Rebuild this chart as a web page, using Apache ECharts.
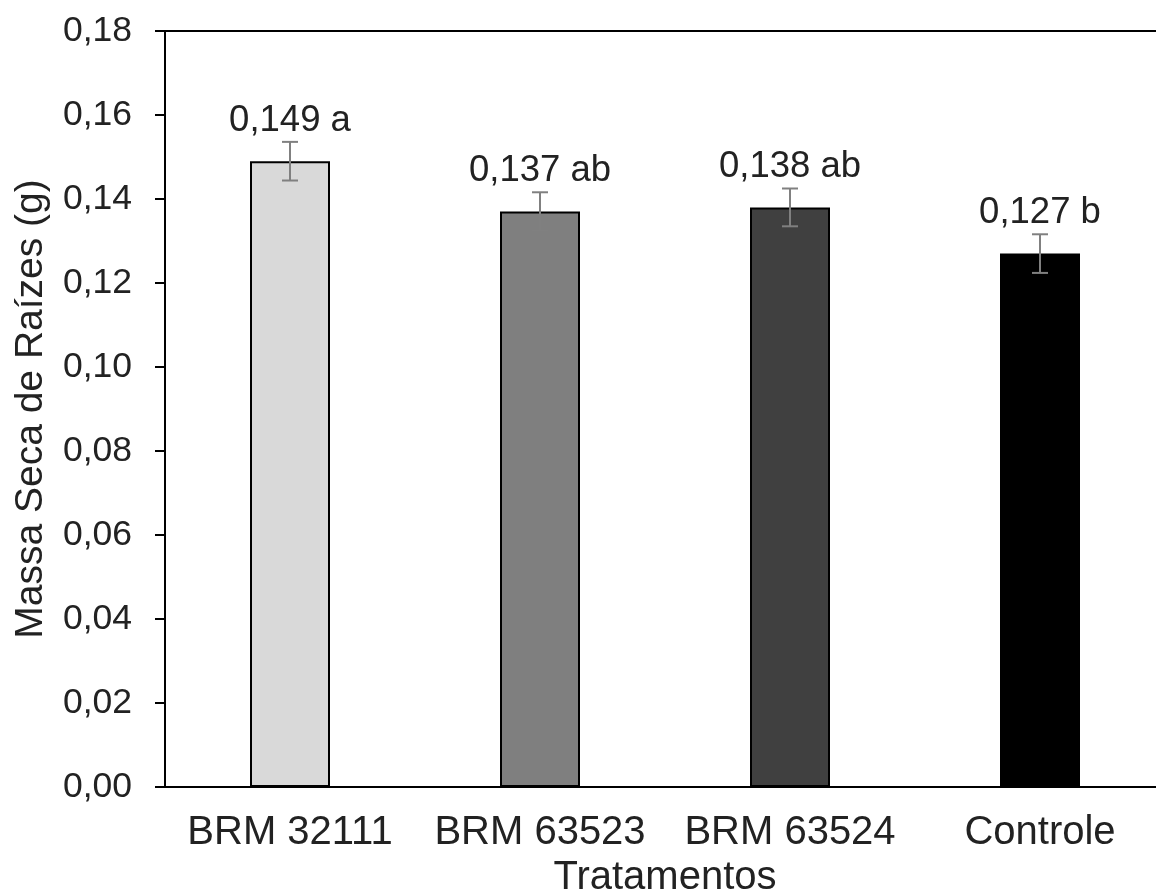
<!DOCTYPE html>
<html><head><meta charset="utf-8">
<script src="https://cdn.jsdelivr.net/npm/echarts@6/dist/echarts.min.js"></script>
<style>html,body{margin:0;padding:0;background:#fff}#c{width:1156px;height:895px}</style>
</head><body><div id="c"></div>
<script>
const categories = ['BRM 32111', 'BRM 63523', 'BRM 63524', 'Controle'];
const values = [0.149, 0.137, 0.138, 0.127];
const errors = [0.0046, 0.0046, 0.0045, 0.0046];
const letters = ['a', 'ab', 'ab', 'b'];
const barColors = ['#d9d9d9', '#7f7f7f', '#404040', '#000000'];
const yTicks = { min: 0, max: 0.18, interval: 0.02 };

const fmt = v => v.toFixed(3).replace('.', ',');
const font = 'Liberation Sans, Arial, sans-serif';
const chart = echarts.init(document.getElementById('c'));
chart.setOption({
  animation: false,
  backgroundColor: '#fff',
  grid: { left: 165, top: 31, width: 1000, height: 756, outerBoundsMode: 'none', containLabel: false,
          show: true, borderColor: '#000', borderWidth: 2, backgroundColor: 'transparent' },
  xAxis: {
    type: 'category', data: categories,
    axisLine: { lineStyle: { color: '#000', width: 2 } },
    axisTick: { show: false },
    axisLabel: { color: '#222', fontSize: 40, fontFamily: font, margin: 26, interval: 0, hideOverlap: false },
    name: 'Tratamentos', nameLocation: 'middle', nameGap: 54,
    nameTextStyle: { color: '#222', fontSize: 40, fontFamily: font }
  },
  yAxis: {
    type: 'value', min: yTicks.min, max: yTicks.max, interval: yTicks.interval,
    axisLine: { show: true, lineStyle: { color: '#000', width: 2 } },
    axisTick: { show: true, length: 10, lineStyle: { color: '#000', width: 2 } },
    splitLine: { show: false },
    axisLabel: { color: '#222', fontSize: 35.5, fontFamily: font, margin: 33, formatter: v => v.toFixed(2).replace('.', ',') },
    name: 'Massa Seca de Raízes (g)', nameLocation: 'middle', nameGap: 114, nameRotate: 90,
    nameTextStyle: { color: '#222', fontSize: 39, fontFamily: font }
  },
  series: [
    {
      type: 'bar', barWidth: '32%',
      data: values.map((v, i) => ({ value: v, itemStyle: { color: barColors[i] } })),
      itemStyle: { borderColor: '#000', borderWidth: 2 },
      label: {
        show: true, position: 'top', distance: 22, color: '#222', fontSize: 36.5, fontFamily: font,
        formatter: p => fmt(values[p.dataIndex]) + ' ' + letters[p.dataIndex]
      }
    },
    {
      type: 'custom', z: 10,
      data: values.map((v, i) => [i, v - errors[i], v + errors[i]]),
      renderItem: (params, api) => {
        const lo = api.coord([api.value(0), api.value(1)]);
        const hi = api.coord([api.value(0), api.value(2)]);
        const w = 8;
        const st = { stroke: '#808080', lineWidth: 2 };
        return { type: 'group', children: [
          { type: 'line', shape: { x1: lo[0], y1: lo[1], x2: hi[0], y2: hi[1] }, style: st },
          { type: 'line', shape: { x1: hi[0] - w, y1: hi[1], x2: hi[0] + w, y2: hi[1] }, style: st },
          { type: 'line', shape: { x1: lo[0] - w, y1: lo[1], x2: lo[0] + w, y2: lo[1] }, style: st }
        ]};
      }
    }
  ]
});
</script></body></html>
